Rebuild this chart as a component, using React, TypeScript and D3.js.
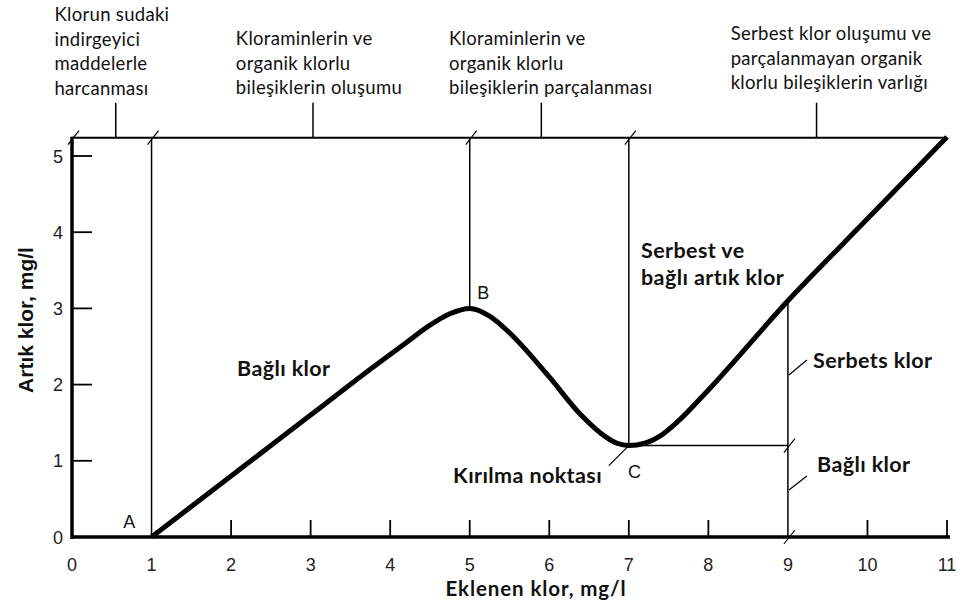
import React from "react";
import * as d3 from "d3";

// Breakpoint chlorination curve: residual chlorine vs. added chlorine dose
const doseValues = [1, 2, 3, 3.8, 4.2, 4.5, 4.75, 5, 5.25, 5.5, 6, 6.4, 6.7, 6.85, 7, 7.2, 7.4, 7.6, 8, 9, 10, 11];
const residualValues = [0, 0.8, 1.6, 2.24, 2.55, 2.78, 2.93, 3.0, 2.9, 2.68, 2.1, 1.6, 1.32, 1.23, 1.2, 1.23, 1.33, 1.5, 1.93, 3.1, 4.175, 5.25];

const xTickValues = [0, 1, 2, 3, 4, 5, 6, 7, 8, 9, 10, 11];
const xTickMarks = [2, 3, 4, 5, 6, 7, 8, 10, 11];
const yTickValues = [0, 1, 2, 3, 4, 5];
const yTickMarks = [1, 2, 3, 4, 5];

const frameTop = 5.24;
const pointB = { x: 5, y: 3.0 };
const pointC = { x: 7, y: 1.2 };
const checkX = 9;
const checkCurveY = 3.1;

// Zone notes above the frame: leader position (x value), text left (x value), lines
const zoneLeaders = [0.55, 3.03, 5.9, 9.36];
const zoneNoteX = [-0.22, 2.06, 4.74, 8.28];
const zoneNoteTop = [21, 45, 45, 40];
const zoneNotes = [
  ["Klorun sudaki", "indirgeyici", "maddelerle", "harcanması"],
  ["Kloraminlerin ve", "organik klorlu", "bileşiklerin oluşumu"],
  ["Kloraminlerin ve", "organik klorlu", "bileşiklerin  parçalanması"],
  ["Serbest klor oluşumu ve", "parçalanmayan organik", "klorlu bileşiklerin varlığı"],
];

const W = 966;
const H = 607;
const calibriLike = "Lato, 'Open Sans', sans-serif";
const helv = "'Liberation Sans', Arial, sans-serif";

export default function App() {
  const x = d3.scaleLinear().domain([0, 11]).range([72, 947]);
  const y = d3.scaleLinear().domain([0, 5]).range([537, 156]);

  const pts = doseValues.map((d, i) => [d, residualValues[i]] as [number, number]);
  const line = d3
    .line<[number, number]>()
    .x((d) => x(d[0]))
    .y((d) => y(d[1]))
    .curve(d3.curveMonotoneX);

  const slash = (px: number, py: number, key: string) => (
    <line key={key} x1={px - 4} y1={py + 7} x2={px + 7} y2={py - 7} stroke="#000" strokeWidth={1.2} />
  );

  const yTop = y(frameTop);

  return (
    <svg
      width={W}
      height={H}
      style={{ position: "absolute", left: 0, top: 0, background: "#fff" }}
    >
      {/* zone notes */}
      {zoneNotes.map((lines, i) => (
        <g key={"note" + i}>
          {lines.map((t, j) => (
            <text
              key={j}
              x={x(zoneNoteX[i])}
              y={zoneNoteTop[i] + j * 24.5}
              fontFamily={calibriLike}
              fontSize={18.5}
              letterSpacing={0.3}
              fill="#111"
            >
              {t}
            </text>
          ))}
          <line
            x1={x(zoneLeaders[i])}
            x2={x(zoneLeaders[i])}
            y1={yTop - 35}
            y2={yTop}
            stroke="#000"
            strokeWidth={1.5}
          />
        </g>
      ))}

      {/* frame top */}
      <line x1={x(0)} x2={x(11)} y1={yTop} y2={yTop} stroke="#000" strokeWidth={2} />

      {/* guide lines */}
      <line x1={x(1)} x2={x(1)} y1={yTop} y2={y(0)} stroke="#000" strokeWidth={1.5} />
      <line x1={x(pointB.x)} x2={x(pointB.x)} y1={yTop} y2={y(pointB.y)} stroke="#000" strokeWidth={1.5} />
      <line x1={x(pointC.x)} x2={x(pointC.x)} y1={yTop} y2={y(pointC.y)} stroke="#000" strokeWidth={1.5} />
      <line x1={x(checkX)} x2={x(checkX)} y1={y(checkCurveY)} y2={y(0)} stroke="#000" strokeWidth={1.5} />
      <line x1={x(pointC.x)} x2={x(checkX)} y1={y(pointC.y)} y2={y(pointC.y)} stroke="#000" strokeWidth={1.5} />

      {/* slash marks */}
      {slash(x(0), yTop, "s0")}
      {slash(x(1), yTop, "s1")}
      {slash(x(pointB.x), yTop, "s2")}
      {slash(x(pointC.x), yTop, "s3")}
      {slash(x(checkX), y(checkCurveY), "s4")}
      {slash(x(checkX), y(pointC.y), "s5")}
      {slash(x(checkX), y(0), "s6")}

      {/* leaders to labels */}
      <line x1={x(pointC.x)} y1={y(pointC.y)} x2={x(pointC.x) - 20} y2={y(pointC.y) + 20} stroke="#000" strokeWidth={1.2} />
      <line x1={x(checkX) + 1} y1={375} x2={x(checkX) + 19} y2={360} stroke="#000" strokeWidth={1.2} />
      <line x1={x(checkX) + 1} y1={490} x2={x(checkX) + 19} y2={476} stroke="#000" strokeWidth={1.2} />

      {/* axes */}
      <line x1={x(0)} x2={x(0)} y1={yTop - 1} y2={y(0) + 2} stroke="#000" strokeWidth={3.5} />
      <line x1={x(0) - 1} x2={x(11) + 3} y1={y(0)} y2={y(0)} stroke="#000" strokeWidth={3.5} />
      {xTickMarks.map((v) => (
        <line key={"xt" + v} x1={x(v)} x2={x(v)} y1={y(0)} y2={y(0) - 17} stroke="#000" strokeWidth={1.8} />
      ))}
      {yTickMarks.map((v) => (
        <line key={"yt" + v} x1={x(0)} x2={x(0) + 20} y1={y(v)} y2={y(v)} stroke="#000" strokeWidth={1.8} />
      ))}
      {xTickValues.map((v) => (
        <text key={"xl" + v} x={x(v)} y={y(0) + 34} textAnchor="middle" fontFamily={helv} fontSize={18} fill="#222">
          {v}
        </text>
      ))}
      {yTickValues.map((v) => (
        <text key={"yl" + v} x={63} y={y(v) + 6.5} textAnchor="end" fontFamily={helv} fontSize={18} fill="#222">
          {v}
        </text>
      ))}

      {/* curve */}
      <path d={line(pts) ?? ""} fill="none" stroke="#000" strokeWidth={5} strokeLinejoin="round" />

      {/* point letters */}
      <text x={x(0.72)} y={y(0) - 9} textAnchor="middle" fontFamily={helv} fontSize={18} fill="#111">A</text>
      <text x={x(5.17)} y={y(3) - 9} textAnchor="middle" fontFamily={helv} fontSize={18} fill="#111">B</text>
      <text x={x(7.07)} y={478} textAnchor="middle" fontFamily={helv} fontSize={18} fill="#111">C</text>

      {/* bold annotations */}
      <g fontFamily={calibriLike} fontWeight="bold" fontSize={21.5} letterSpacing={0.4} fill="#111">
        <text x={237} y={376}>Bağlı klor</text>
        <text x={641} y={258}>Serbest ve</text>
        <text x={641} y={285}>bağlı artık klor</text>
        <text x={813} y={368}>Serbets klor</text>
        <text x={817} y={472}>Bağlı klor</text>
        <text x={453} y={483}>Kırılma noktası</text>
      </g>

      {/* axis titles */}
      <text
        transform="translate(33, 320) rotate(-90)"
        textAnchor="middle"
        fontFamily={helv}
        fontWeight="bold"
        fontSize={21}
        fill="#111"
      >
        Artık klor, mg/l
      </text>
      <text x={536} y={596} textAnchor="middle" fontFamily={calibriLike} fontWeight="bold" fontSize={20.5} letterSpacing={0.9} fill="#111">
        Eklenen klor, mg/l
      </text>
    </svg>
  );
}
